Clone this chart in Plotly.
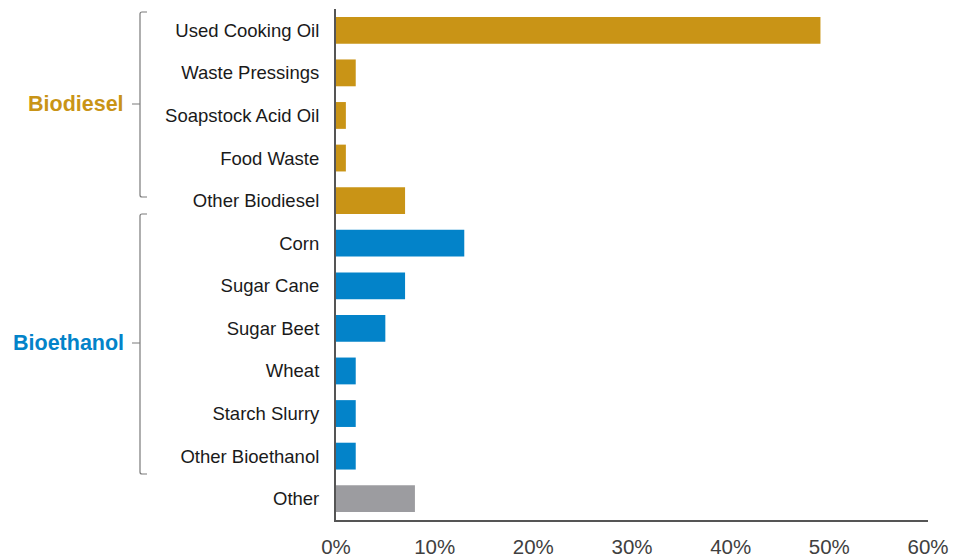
import plotly.graph_objects as go

categories = ["Used Cooking Oil", "Waste Pressings", "Soapstock Acid Oil", "Food Waste",
              "Other Biodiesel", "Corn", "Sugar Cane", "Sugar Beet", "Wheat",
              "Starch Slurry", "Other Bioethanol", "Other"]
shares = [49.1, 2, 1, 1, 7, 13, 7, 5, 2, 2, 2, 8]
groups = ["Biodiesel"] * 5 + ["Bioethanol"] * 6 + ["Other"]
group_colors = {"Biodiesel": "#C99416", "Bioethanol": "#0383C9", "Other": "#9C9CA0"}
x_ticks = [0, 10, 20, 30, 40, 50, 60]
x_tick_labels = ["0%", "10%", "20%", "30%", "40%", "50%", "60%"]

# target window geometry (page body has an 8px default margin)
OFF = 8
WIN_W, WIN_H = 957, 558
PL, PR, PT, PB = 336, 928, 9, 520          # plot-area edges in window pixels
W, H = WIN_W - OFF, WIN_H - OFF
ML, MT = PL - OFF, PT - OFF
MR = W - (PR - OFF)
MB = H - (PB - OFF)
PW, PH = PR - PL, PB - PT

def px(x):
    return (x - PL) / PW

def py(y):
    return (PB - y) / PH

FONT = "Liberation Sans, Arial, sans-serif"

fig = go.Figure()
fig.add_trace(go.Bar(
    x=shares, y=categories, orientation="h",
    marker=dict(color=[group_colors[g] for g in groups], line=dict(width=0)),
    hoverinfo="x+y",
))

def bracket(top, mid, bottom):
    xl, xr, xt = 140, 147, 132
    r = 2
    return (f"M {px(xr)} {py(top)} L {px(xl + r)} {py(top)} "
            f"Q {px(xl)} {py(top)} {px(xl)} {py(top + r)} "
            f"L {px(xl)} {py(bottom - r)} "
            f"Q {px(xl)} {py(bottom)} {px(xl + r)} {py(bottom)} "
            f"L {px(xr)} {py(bottom)} "
            f"M {px(xt)} {py(mid)} L {px(xl)} {py(mid)}")

shapes = []
for (t, m, b) in [(12, 104, 197), (214, 343, 474)]:
    shapes.append(dict(type="path", xref="paper", yref="paper", path=bracket(t, m, b),
                       line=dict(color="#7a7a7a", width=1.2)))

annotations = [
    dict(text="<b>Biodiesel</b>", xref="paper", yref="paper", x=px(126), y=py(104),
         xanchor="right", yanchor="middle", showarrow=False,
         font=dict(family=FONT, size=21.5, color=group_colors["Biodiesel"])),
    dict(text="<b>Bioethanol</b>", xref="paper", yref="paper", x=px(126), y=py(343),
         xanchor="right", yanchor="middle", showarrow=False,
         font=dict(family=FONT, size=21.5, color=group_colors["Bioethanol"])),
]

fig.update_layout(
    width=W, height=H,
    margin=dict(l=ML, r=MR, t=MT, b=MB, pad=0, autoexpand=False),
    paper_bgcolor="white", plot_bgcolor="white",
    showlegend=False,
    bargap=0.37,
    font=dict(family=FONT, color="#1a1a1a"),
    shapes=shapes,
    annotations=annotations,
    xaxis=dict(range=[0, 60], tickvals=x_ticks, ticktext=x_tick_labels,
               showgrid=False, zeroline=False, showline=True, linecolor="#555555",
               linewidth=2, ticks="", ticklabelstandoff=7, automargin=False,
               tickfont=dict(family=FONT, size=20.5, color="#404040"), fixedrange=True),
    yaxis=dict(categoryorder="array", categoryarray=categories, autorange="reversed",
               showgrid=False, zeroline=False, showline=True, linecolor="#555555",
               linewidth=2, ticks="", ticklabelstandoff=11, automargin=False,
               tickfont=dict(family=FONT, size=18.5, color="#1a1a1a"), fixedrange=True),
)

fig.write_html("out.html")
